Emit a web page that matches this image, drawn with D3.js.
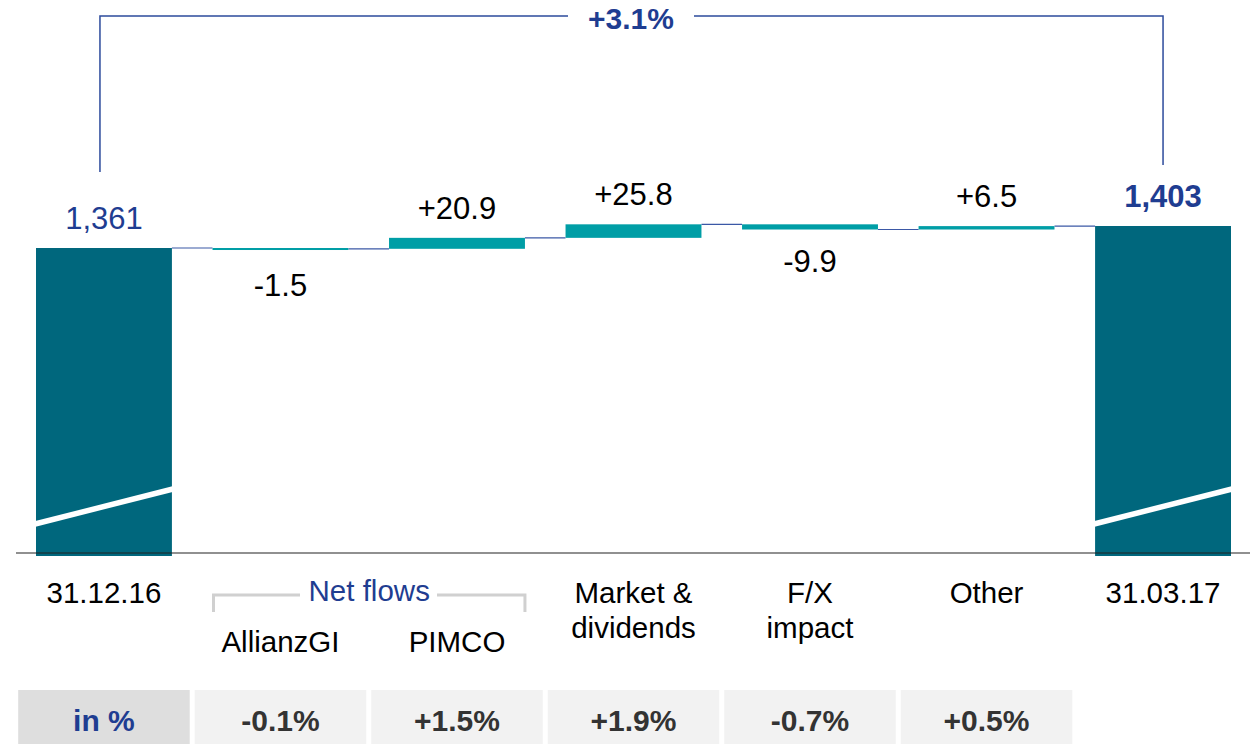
<!DOCTYPE html>
<html>
<head>
<meta charset="utf-8">
<script src="https://cdn.jsdelivr.net/npm/d3@7.9.0/dist/d3.min.js"></script>
<style>
  html, body { margin: 0; padding: 0; background: #fff; }
  svg { display: block; font-family: "Liberation Sans", Arial, sans-serif; }
</style>
</head>
<body>
<svg id="chart" width="1256" height="744"></svg>
<script>
// data
const categories = ['31.12.16', 'AllianzGI', 'PIMCO', 'Market & dividends', 'F/X impact', 'Other', '31.03.17'];
const catLines = [['31.12.16'], [], [], ['Market &', 'dividends'], ['F/X', 'impact'], ['Other'], ['31.03.17']];
const subLabels = ['', 'AllianzGI', 'PIMCO', '', '', '', ''];
const values = [1361, -1.5, 20.9, 25.8, -9.9, 6.5, 1403];
const isTotal = [true, false, false, false, false, false, true];
const valueLabels = ['1,361', '-1.5', '+20.9', '+25.8', '-9.9', '+6.5', '1,403'];
const pctLabels = ['in %', '-0.1%', '+1.5%', '+1.9%', '-0.7%', '+0.5%'];
const totalChange = '+3.1%';
const groupLabel = 'Net flows';

const blue = '#1f3d91';
const darkTeal = '#00677d';
const teal = '#009ea6';

const svg = d3.select('#chart');

let x = d3.scaleBand()
  .domain(categories)
  .range([36, 1231])
  .paddingInner(0.23)
  .paddingOuter(0);
let bw = x.bandwidth();

// axis is broken, so domain starts well above zero
let y = d3.scaleLinear()
  .domain([779, 1403])
  .range([553, 226]);

// build waterfall steps
let running = 0;
let steps = values.map((v, i) => {
  let start, end;
  if (isTotal[i]) {
    start = 779; end = v; running = v;
  } else {
    start = running; end = running + v; running = end;
  }
  return { cat: categories[i], start, end, value: v, total: isTotal[i], label: valueLabels[i] };
});

// connectors
steps.slice(0, -1).forEach((d, i) => {
  svg.append('line')
    .attr('x1', x(d.cat) + bw).attr('x2', x(steps[i + 1].cat))
    .attr('y1', y(d.end)).attr('y2', y(d.end))
    .attr('stroke', '#3b58a6').attr('stroke-width', 1.2);
});

// bars
steps.forEach((d) => {
  let top = y(Math.max(d.start, d.end));
  let bot = y(Math.min(d.start, d.end));
  if (d.total) bot = bot + 3;
  let h = Math.max(bot - top, 2);
  svg.append('rect')
    .attr('x', x(d.cat)).attr('y', top)
    .attr('width', bw).attr('height', h)
    .attr('fill', d.total ? darkTeal : teal);
});

// axis break marks on total bars
steps.filter(d => d.total).forEach((d) => {
  svg.append('line')
    .attr('x1', x(d.cat) - 1).attr('y1', y(779) - 29)
    .attr('x2', x(d.cat) + bw + 1).attr('y2', y(779) - 64)
    .attr('stroke', '#fff').attr('stroke-width', 5.5);
});

// baseline
svg.append('line')
  .attr('x1', 16).attr('x2', 1250)
  .attr('y1', y(779)).attr('y2', y(779))
  .attr('stroke', '#222').attr('stroke-width', 1.2);

// value labels
steps.forEach((d) => {
  let cx = x(d.cat) + bw / 2;
  let t = svg.append('text')
    .attr('x', cx)
    .attr('text-anchor', 'middle')
    .attr('font-size', 31)
    .text(d.label);
  if (d.total) {
    t.attr('y', y(d.end) - 19).attr('fill', blue);
    if (d.cat === '31.03.17') t.attr('font-weight', 'bold');
  } else if (d.value >= 0) {
    t.attr('y', y(d.end) - 19).attr('fill', '#000');
  } else {
    t.attr('y', y(d.start) + 48).attr('fill', '#000');
  }
});

// top bracket with total change
let xl = x(categories[0]) + bw / 2 - 4;
let xr = x(categories[6]) + bw / 2;
let topY = 16;
let gapL = 568, gapR = 694;
svg.append('path')
  .attr('d', `M${xl},${y(values[0]) - 76} V${topY} H${gapL} M${gapR},${topY} H${xr} V${y(values[6]) - 61}`)
  .attr('fill', 'none').attr('stroke', '#2d4b9c').attr('stroke-width', 1.5);
svg.append('text')
  .attr('x', (gapL + gapR) / 2).attr('y', 29)
  .attr('text-anchor', 'middle')
  .attr('font-size', 30).attr('font-weight', 'bold')
  .attr('fill', blue)
  .text(totalChange);

// category labels
catLines.forEach((lines, i) => {
  lines.forEach((ln, j) => {
    svg.append('text')
      .attr('x', x(categories[i]) + bw / 2)
      .attr('y', 603 + j * 35)
      .attr('text-anchor', 'middle')
      .attr('font-size', 29.5)
      .attr('fill', '#000')
      .text(ln);
  });
  if (subLabels[i]) {
    svg.append('text')
      .attr('x', x(categories[i]) + bw / 2)
      .attr('y', 652)
      .attr('text-anchor', 'middle')
      .attr('font-size', 29.5)
      .attr('fill', '#000')
      .text(subLabels[i]);
  }
});

// Net flows group bracket
let gx1 = x('AllianzGI') + 1, gx2 = x('PIMCO') + bw;
svg.append('path')
  .attr('d', `M${gx1},612 V595 H300 M437,595 H${gx2} V612`)
  .attr('fill', 'none').attr('stroke', '#d0d0d0').attr('stroke-width', 3);
svg.append('text')
  .attr('x', (gx1 + gx2) / 2).attr('y', 601)
  .attr('text-anchor', 'middle')
  .attr('font-size', 29.5)
  .attr('fill', blue)
  .text(groupLabel);

// percentage row
let step = x.step();
pctLabels.forEach((p, i) => {
  let cx = x(categories[i]) + bw / 2;
  svg.append('rect')
    .attr('x', cx - (step - 5) / 2).attr('y', 690)
    .attr('width', step - 5).attr('height', 54)
    .attr('fill', i === 0 ? '#dedede' : '#f2f2f2');
  svg.append('text')
    .attr('x', cx).attr('y', 731)
    .attr('text-anchor', 'middle')
    .attr('font-size', 30).attr('font-weight', 'bold')
    .attr('fill', i === 0 ? blue : '#333')
    .text(p);
});
</script>
</body>
</html>
